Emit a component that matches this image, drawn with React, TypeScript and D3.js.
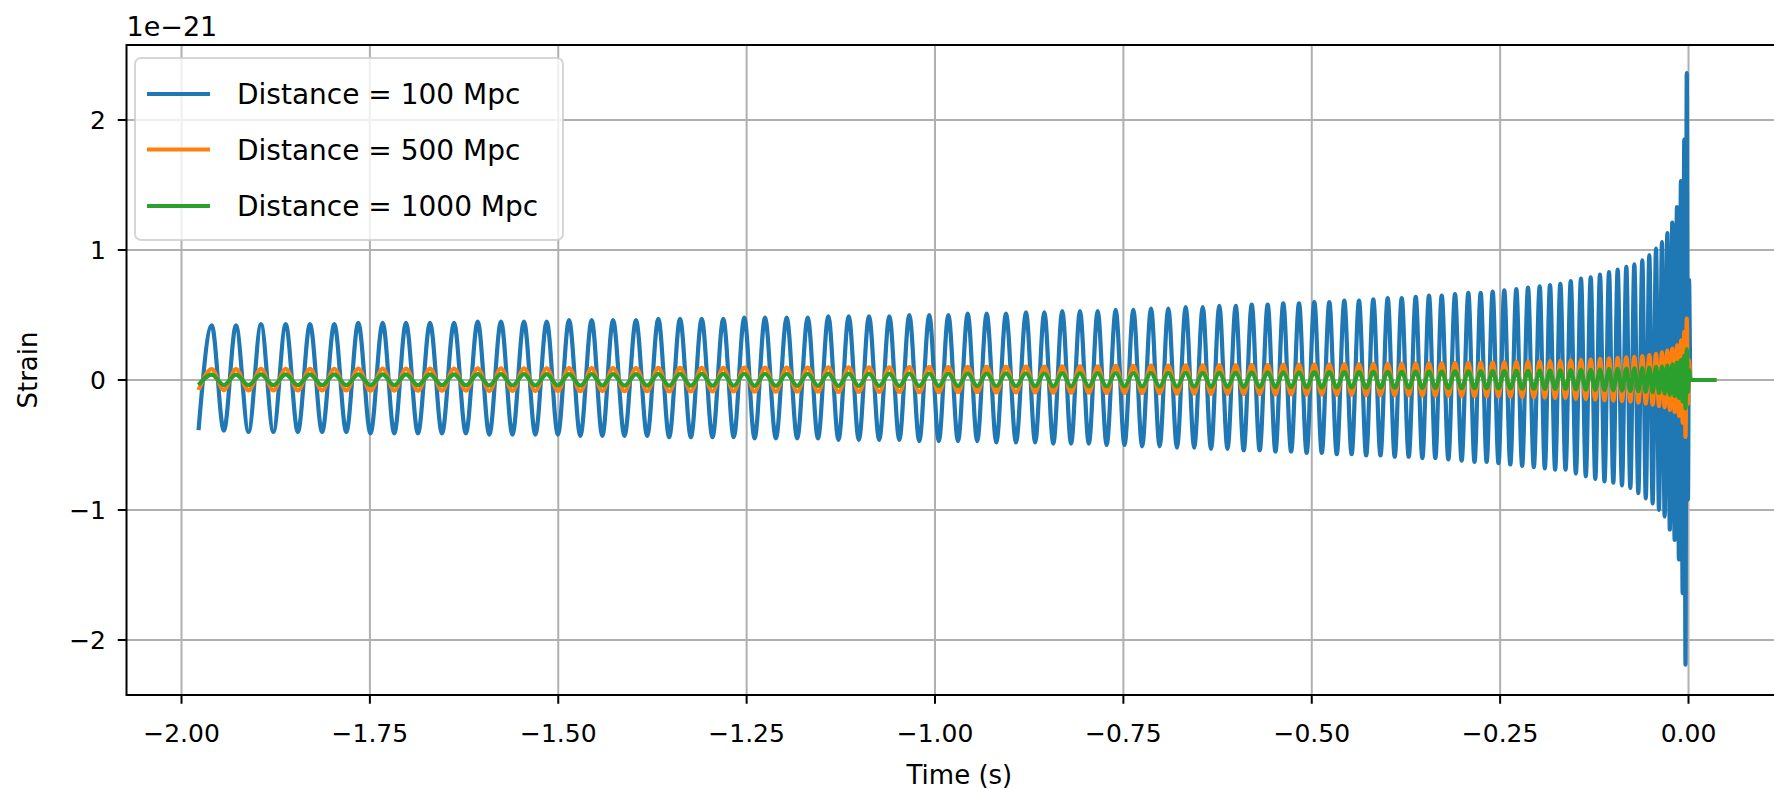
import React from "react";
import * as d3 from "d3";

// ---- data (strain in units of 1e-21, time in seconds) ----
const distancesMpc = [100, 500, 1000];
const seriesLabels = ["Distance = 100 Mpc", "Distance = 500 Mpc", "Distance = 1000 Mpc"];
const seriesColors = ["#1f77b4", "#ff7f0e", "#2ca02c"];

const xTickValues = [-2.0, -1.75, -1.5, -1.25, -1.0, -0.75, -0.5, -0.25, 0.0];
const yTickValues = [-2, -1, 0, 1, 2];

// positive extrema of the 100 Mpc waveform
const peakTimes = [
  -1.9599, -1.9277, -1.8945, -1.8617, -1.8295, -1.7972, -1.7654, -1.733, -1.7021, -1.6702,
  -1.6383, -1.6069, -1.576, -1.5455, -1.5153, -1.4857, -1.4556, -1.4273, -1.3968, -1.3672,
  -1.3384, -1.3096, -1.281, -1.2531, -1.2256, -1.1968, -1.1689, -1.1416, -1.1145, -1.0876,
  -1.0606, -1.0341, -1.0076, -0.9823, -0.9566, -0.9314, -0.9058, -0.8792, -0.8549, -0.8311,
  -0.8076, -0.7841, -0.7602, -0.7368, -0.7133, -0.6904, -0.6673, -0.6447, -0.6227, -0.6009,
  -0.5797, -0.5585, -0.5378, -0.5169, -0.4966, -0.4767, -0.4568, -0.4373, -0.4183, -0.3992,
  -0.3806, -0.362, -0.3444, -0.3275, -0.3099, -0.2922, -0.2758, -0.2599, -0.2445, -0.2285,
  -0.213, -0.1975, -0.1838, -0.1701, -0.1563, -0.1427, -0.1298, -0.1175, -0.1055, -0.094,
  -0.0825, -0.0719, -0.0613, -0.052, -0.0431, -0.0352, -0.0281, -0.0215, -0.0153, -0.01,
  -0.0056, -0.0023,
];
const peakStrain = [
  0.42, 0.42, 0.43, 0.43, 0.43, 0.43, 0.44, 0.44, 0.44, 0.44,
  0.44, 0.45, 0.45, 0.45, 0.45, 0.46, 0.46, 0.46, 0.46, 0.47,
  0.47, 0.47, 0.47, 0.48, 0.48, 0.48, 0.48, 0.49, 0.49, 0.49,
  0.49, 0.5, 0.5, 0.5, 0.51, 0.51, 0.51, 0.52, 0.52, 0.53,
  0.53, 0.53, 0.54, 0.54, 0.55, 0.55, 0.56, 0.56, 0.57, 0.57,
  0.58, 0.58, 0.59, 0.59, 0.6, 0.6, 0.61, 0.61, 0.62, 0.63,
  0.63, 0.64, 0.65, 0.65, 0.66, 0.67, 0.67, 0.68, 0.69, 0.7,
  0.71, 0.72, 0.73, 0.74, 0.76, 0.78, 0.79, 0.81, 0.83, 0.85,
  0.87, 0.89, 0.92, 0.96, 1.01, 1.06, 1.13, 1.21, 1.33, 1.53,
  1.85, 2.36,
];
// negative extrema of the 100 Mpc waveform
const troughTimes = [
  -1.9774, -1.9438, -1.9111, -1.8781, -1.8456, -1.8134, -1.7813, -1.7492, -1.7176, -1.6862,
  -1.6543, -1.6226, -1.5915, -1.5608, -1.5304, -1.5005, -1.4707, -1.4415, -1.4121, -1.382,
  -1.3528, -1.324, -1.2953, -1.2671, -1.2394, -1.2112, -1.1829, -1.1553, -1.1281, -1.1011,
  -1.0741, -1.0474, -1.0209, -0.995, -0.9695, -0.944, -0.9186, -0.8925, -0.8671, -0.843,
  -0.8194, -0.7959, -0.7722, -0.7485, -0.7251, -0.7019, -0.6789, -0.656, -0.6337, -0.6118,
  -0.5903, -0.5691, -0.5482, -0.5274, -0.5068, -0.4867, -0.4668, -0.4471, -0.4278, -0.4088,
  -0.3899, -0.3713, -0.3532, -0.336, -0.3187, -0.3011, -0.284, -0.2679, -0.2522, -0.2365,
  -0.2208, -0.2053, -0.1907, -0.177, -0.1632, -0.1495, -0.1363, -0.1237, -0.1115, -0.0998,
  -0.0883, -0.0772, -0.0666, -0.0567, -0.0476, -0.0392, -0.0317, -0.0248, -0.0184, -0.0127,
  -0.0078, -0.004, -0.0007,
];
const troughStrain = [
  -0.385, -0.39, -0.4, -0.4, -0.4, -0.4, -0.4, -0.41, -0.41, -0.41,
  -0.41, -0.41, -0.42, -0.42, -0.42, -0.42, -0.43, -0.43, -0.43, -0.43,
  -0.44, -0.44, -0.44, -0.44, -0.45, -0.45, -0.45, -0.45, -0.46, -0.46,
  -0.46, -0.46, -0.47, -0.47, -0.47, -0.47, -0.48, -0.48, -0.48, -0.49,
  -0.49, -0.49, -0.5, -0.5, -0.51, -0.51, -0.52, -0.52, -0.53, -0.53,
  -0.54, -0.54, -0.55, -0.55, -0.56, -0.56, -0.57, -0.57, -0.58, -0.58,
  -0.59, -0.59, -0.6, -0.6, -0.61, -0.62, -0.63, -0.63, -0.64, -0.65,
  -0.66, -0.67, -0.68, -0.69, -0.69, -0.72, -0.74, -0.76, -0.78, -0.79,
  -0.81, -0.83, -0.87, -0.91, -0.95, -1.0, -1.05, -1.15, -1.23, -1.38,
  -1.64, -2.19, -0.92,
];
// ringdown and flat tail
const ringdownTimes = [0.0007, 0.0025, 0.037];
const ringdownStrain = [0.77, 0.0, 0.0];

type Pt = { t: number; v: number };

const basePoints: Pt[] = [
  ...peakTimes.map((t, i) => ({ t, v: peakStrain[i] })),
  ...troughTimes.map((t, i) => ({ t, v: troughStrain[i] })),
  ...ringdownTimes.map((t, i) => ({ t, v: ringdownStrain[i] })),
].sort((a, b) => a.t - b.t);

// strain scales as 1/distance
const series = distancesMpc.map((d, k) => ({
  label: seriesLabels[k],
  color: seriesColors[k],
  points: basePoints.map((p) => ({ t: p.t, v: (p.v * distancesMpc[0]) / d })),
}));

// ---- layout ----
const W = 1774;
const H = 791;
const axLeft = 126.5;
const axTop = 45;
const axBottom = 695;
const xDomain: [number, number] = [-2.073, 0.1377];
const pxPerSec = 753.5;
const axRight = axLeft + (xDomain[1] - xDomain[0]) * pxPerSec;

const x = d3.scaleLinear().domain(xDomain).range([axLeft, axRight]);
const y = d3.scaleLinear().domain([-2.423, 2.577]).range([axBottom, axTop]);

const font = "'DejaVu Sans', sans-serif";
const tickFont = 25;
const labelFont = 26;
const legendFont = 28;
const lw = 4.2;

const fmtX = d3.format(".2f");
const fmtY = d3.format("d");

export default function App() {
  const line = d3
    .line<Pt>()
    .x((p) => x(p.t))
    .y((p) => y(p.v))
    .curve(d3.curveMonotoneX);

  const legend = { x: 135, y: 58, w: 428, h: 182 };
  const rowY = [94, 149.5, 206];

  return (
    <svg
      width={W}
      height={H}
      style={{ position: "fixed", left: 0, top: 0, background: "#fff", overflow: "hidden" }}
      fontFamily={font}
    >
      <rect x={0} y={0} width={W} height={H} fill="#fff" />
      <defs>
        <clipPath id="plotClip">
          <rect x={axLeft} y={axTop} width={axRight - axLeft} height={axBottom - axTop} />
        </clipPath>
      </defs>

      {/* grid */}
      <g stroke="#b0b0b0" strokeWidth={2}>
        {xTickValues.map((t) => (
          <line key={"gx" + t} x1={x(t)} x2={x(t)} y1={axTop} y2={axBottom} />
        ))}
        {yTickValues.map((v) => (
          <line key={"gy" + v} x1={axLeft} x2={axRight} y1={y(v)} y2={y(v)} />
        ))}
      </g>

      {/* data */}
      <g clipPath="url(#plotClip)" fill="none" strokeWidth={lw} strokeLinejoin="round">
        {series.map((s) => (
          <path key={s.label} d={line(s.points) || ""} stroke={s.color} />
        ))}
      </g>

      {/* spines */}
      <rect
        x={axLeft}
        y={axTop}
        width={axRight - axLeft}
        height={axBottom - axTop}
        fill="none"
        stroke="#000"
        strokeWidth={2}
      />

      {/* x ticks */}
      <g>
        {xTickValues.map((t) => (
          <g key={"xt" + t}>
            <line x1={x(t)} x2={x(t)} y1={axBottom} y2={axBottom + 8.75} stroke="#000" strokeWidth={2} />
            <text x={x(t)} y={742} textAnchor="middle" fontSize={tickFont} fill="#000">
              {fmtX(t)}
            </text>
          </g>
        ))}
      </g>

      {/* y ticks */}
      <g>
        {yTickValues.map((v) => (
          <g key={"yt" + v}>
            <line x1={axLeft - 8.75} x2={axLeft} y1={y(v)} y2={y(v)} stroke="#000" strokeWidth={2} />
            <text x={106} y={y(v) + 9} textAnchor="end" fontSize={tickFont} fill="#000">
              {fmtY(v)}
            </text>
          </g>
        ))}
      </g>

      {/* offset text */}
      <text x={axLeft} y={36} fontSize={27} fill="#000">
        1e−21
      </text>

      {/* axis labels */}
      <text x={(axLeft + axRight) / 2} y={784} textAnchor="middle" fontSize={labelFont} fill="#000">
        Time (s)
      </text>
      <text
        transform={`translate(37, ${(axTop + axBottom) / 2}) rotate(-90)`}
        textAnchor="middle"
        fontSize={labelFont}
        fill="#000"
      >
        Strain
      </text>

      {/* legend */}
      <g>
        <rect
          x={legend.x}
          y={legend.y}
          width={legend.w}
          height={legend.h}
          rx={6}
          ry={6}
          fill="#fff"
          fillOpacity={0.8}
          stroke="#cccccc"
          strokeOpacity={0.8}
          strokeWidth={2}
        />
        {series.map((s, i) => (
          <g key={"lg" + i}>
            <line x1={147} x2={210} y1={rowY[i]} y2={rowY[i]} stroke={s.color} strokeWidth={lw} />
            <text x={237} y={rowY[i] + 10} fontSize={legendFont} fill="#000">
              {s.label}
            </text>
          </g>
        ))}
      </g>
    </svg>
  );
}
